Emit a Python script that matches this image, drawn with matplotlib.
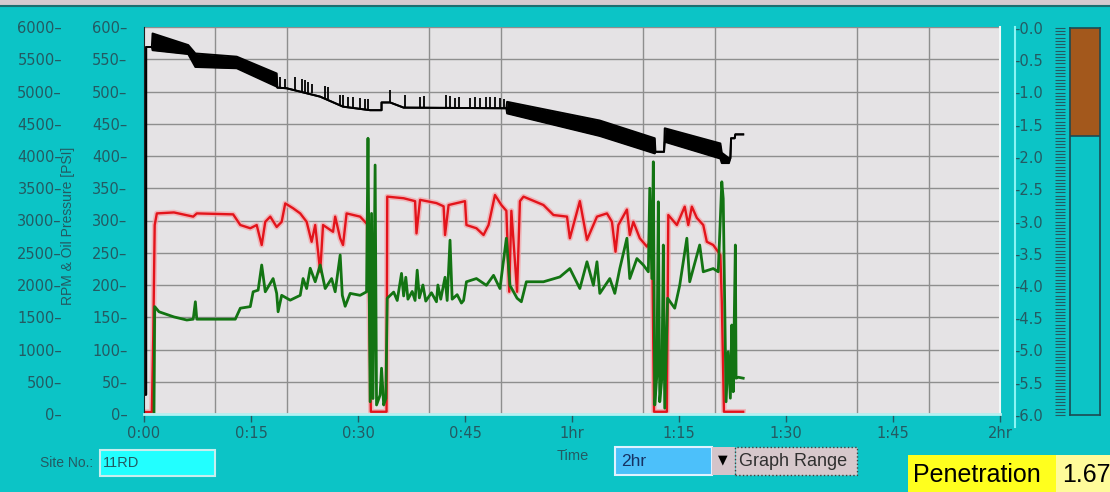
import matplotlib.pyplot as plt
from matplotlib.patches import Rectangle
from matplotlib.lines import Line2D

# black trace (upper / lower envelope of the dense band), minutes vs RPM
black_t = [0.0, 0.3, 0.3, 1.1, 1.2, 6.2, 7.2, 13.0, 18.6, 18.7, 20.0, 24.7, 27.9, 31.7,
           33.3, 33.3, 34.5, 36.4, 50.8, 50.9, 63.9, 71.6, 71.7, 72.9, 73.0, 80.8, 81.0,
           82.0, 82.2, 82.3, 82.8, 82.9, 84.0]
black_hi = [300, 300, 5690, 5690, 5900, 5720, 5590, 5540, 5280, 5060, 5050, 4920, 4765, 4710,
            4710, 4830, 4830, 4750, 4740, 4840, 4550, 4275, 4065, 4065, 4430, 4195, 4050,
            3965, 3965, 4275, 4275, 4335, 4335]
black_lo = [300, 300, 5690, 5690, 5640, 5580, 5380, 5360, 5075, 5060, 5050, 4920, 4765, 4710,
            4710, 4830, 4830, 4750, 4740, 4660, 4310, 4040, 4065, 4065, 4220, 3960, 3890,
            3890, 3965, 4275, 4275, 4335, 4335]

# short upward spikes on the black trace
spike_t = [19.1, 19.8, 21.2, 22.1, 22.6, 23.0, 23.5, 25.4, 25.8, 27.5, 27.9, 28.6, 29.3, 30.3,
           31.0, 31.4, 34.5, 36.6, 38.7, 39.2, 42.4, 42.9, 43.6, 44.1, 45.7, 46.4, 47.1, 48.0,
           48.5, 49.2, 49.9, 50.4]
spike_lo = [5055, 5052, 5030, 5000, 4990, 4980, 4970, 4900, 4880, 4780, 4765, 4755, 4745, 4730,
            4720, 4715, 4830, 4750, 4750, 4750, 4745, 4745, 4745, 4745, 4745, 4745, 4745, 4745,
            4745, 4745, 4745, 4745]
spike_hi = [5230, 5200, 5230, 5190, 5180, 5150, 5120, 5080, 5070, 4950, 4950, 4920, 4910, 4900,
            4890, 4880, 5020, 4950, 4920, 4930, 4940, 4930, 4900, 4920, 4900, 4910, 4900, 4910,
            4920, 4910, 4900, 4890]

# red trace
red_t = [0.0, 1.1, 1.3, 1.5, 1.8, 4.2, 6.9, 7.4, 12.5, 13.5, 14.9, 15.8, 16.5, 17.0, 17.7,
         18.6, 19.3, 19.8, 20.9, 21.9, 22.8, 23.5, 24.0, 24.7, 25.1, 26.5, 26.8, 27.5, 27.9,
         28.4, 30.3, 31.4, 31.8, 34.0, 34.1, 36.4, 38.0, 38.2, 38.7, 41.0, 42.0, 42.2, 42.7,
         45.0, 45.2, 46.6, 47.6, 48.3, 49.2, 50.1, 50.8, 51.2, 51.5, 52.3, 52.7, 53.2, 56.0,
         57.4, 59.3, 59.7, 61.1, 62.1, 63.5, 64.9, 65.6, 66.1, 66.5, 67.7, 68.1, 68.6, 69.5,
         70.5, 70.9, 71.2, 71.5, 73.3, 73.5, 74.7, 75.8, 76.3, 76.8, 77.5, 78.4, 78.9, 79.8,
         80.8, 81.0, 81.3, 84.0]
red_v = [30, 30, 1225, 2930, 3110, 3125, 3060, 3110, 3095, 2930, 2880, 2930, 2620, 2980, 3060,
         2900, 2980, 3265, 3190, 3110, 2980, 2670, 2930, 2205, 2930, 2825, 3060, 2725, 2620,
         3110, 3060, 2930, 35, 35, 3370, 3345, 3300, 2800, 3320, 3270, 3220, 2775, 3240,
         3300, 2930, 2880, 2775, 2930, 3395, 3240, 3150, 1895, 3150, 1895, 3300, 3370, 3240,
         3085, 3060, 2725, 3300, 2700, 3060, 3110, 2980, 2515, 2930, 3170, 2775, 2980, 2725,
         2595, 2670, 2980, 35, 35, 3085, 2930, 3215, 2930, 3215, 3040, 2930, 2670, 2620,
         2465, 1740, 35, 35]

# green trace
green_t = [1.4, 1.5, 2.1, 4.2, 6.0, 6.9, 7.2, 7.4, 12.8, 13.5, 14.9, 15.3, 16.0, 16.5, 17.0,
           18.1, 18.6, 18.8, 19.3, 20.5, 21.9, 22.3, 22.8, 23.3, 24.0, 24.7, 25.4, 26.3, 26.8,
           27.5, 27.8, 28.2, 28.9, 30.3, 31.2, 31.4, 31.7, 31.9, 32.1, 32.4, 32.6, 33.1, 33.3,
           33.6, 33.9, 34.1, 35.0, 35.5, 36.1, 36.4, 36.7, 37.0, 37.6, 38.0, 38.3, 38.6, 39.1,
           39.5, 40.3, 41.0, 41.2, 41.6, 42.2, 42.5, 42.9, 43.2, 43.9, 44.5, 44.8, 45.2, 46.6,
           48.0, 49.0, 49.9, 50.8, 51.3, 52.3, 52.9, 53.6, 56.0, 58.3, 59.7, 61.1, 62.1, 63.0,
           63.5, 63.9, 65.3, 66.0, 66.7, 67.7, 68.1, 69.1, 70.0, 70.7, 70.9, 71.2, 71.4, 71.6,
           71.9, 72.1, 72.3, 72.6, 72.8, 73.0, 73.4, 74.4, 75.1, 76.1, 76.5, 77.9, 78.4, 79.8,
           80.5, 81.0, 81.2, 81.6, 81.9, 82.2, 82.4, 82.6, 82.9, 83.0, 83.3, 84.0]
green_v = [30, 1665, 1585, 1505, 1457, 1470, 1740, 1470, 1470, 1640, 1665, 1895, 1920, 2310,
           1895, 2100, 1870, 1585, 1840, 1765, 1840, 2100, 1945, 2260, 2050, 2310, 1945, 2100,
           1895, 2465, 1840, 1670, 1870, 1840, 1895, 4275, 190, 3110, 240, 3860, 140, 295, 710,
           140, 240, 1795, 1890, 1760, 2180, 1830, 2120, 1780, 1900, 1760, 2230, 1800, 2000,
           1750, 1880, 1740, 2000, 1780, 2120, 1760, 2695, 1780, 1850, 1720, 1760, 2050, 2100,
           1995, 2150, 1945, 2725, 1995, 1795, 1740, 2050, 2050, 2125, 2255, 1945, 2360, 1995,
           2360, 1870, 2100, 1870, 2255, 2725, 2100, 2410, 2310, 2205, 3500, 2100, 3910, 140,
           605, 3290, 190, 560, 2620, 90, 1795, 1640, 1995, 2725, 2050, 2620, 2205, 2255, 2205,
           3600, 3340, 190, 965, 245, 1380, 345, 2620, 555, 570, 555]

rpm_ticks = list(range(0, 6001, 500))
psi_ticks = list(range(0, 601, 50))
time_ticks = [0, 15, 30, 45, 60, 75, 90, 105, 120]
time_labels = ['0:00', '0:15', '0:30', '0:45', '1hr', '1:15', '1:30', '1:45', '2hr']
pen_ticks = [-i * 0.5 for i in range(13)]
penetration = 1.67

CYAN = '#0cc4c6'
TXT = '#245a62'
W, H = 1110, 492


def fx(px):
    return px / W


def fy(py):
    return 1 - py / H


def box(fig, x0, y0, x1, y1, **kw):
    fig.add_artist(Rectangle((fx(x0), fy(y1)), fx(x1) - fx(x0), fy(y0) - fy(y1),
                             transform=fig.transFigure, **kw))


fig = plt.figure(figsize=(W / 100, H / 100), dpi=100)
fig.patch.set_facecolor(CYAN)

# window top strip
box(fig, 0, 0, W, 5, facecolor='#d6cbd0', lw=0)
fig.add_artist(Line2D([0, 1], [fy(6), fy(6)], color='#1e6e70', lw=1.5))

ax = fig.add_axes([fx(144), fy(414), fx(1000) - fx(144), fy(27) - fy(414)])
ax.set_facecolor('#e5e3e5')
ax.set_xlim(0, 120)
ax.set_ylim(0, 6000)

ax.fill_between(black_t, black_lo, black_hi, color='black', lw=0)
ax.plot(black_t, black_hi, color='black', lw=1.4)
ax.plot(black_t, black_lo, color='black', lw=1.4)
ax.vlines(spike_t, spike_lo, spike_hi, color='black', lw=1.3)
ax.plot(red_t, red_v, color='#f4a4a8', lw=4, alpha=0.7)
ax.plot(red_t, red_v, color='#e3141b', lw=1.7)
ax.plot(green_t, green_v, color='#137413', lw=2.0)

ax.set_yticks(rpm_ticks)
ax.set_yticklabels([f'{v}\u2013' for v in rpm_ticks])
ax.tick_params(axis='y', length=0, pad=59, labelsize=10.5, labelcolor=TXT)
ax.set_xticks(time_ticks)
ax.set_xticklabels(time_labels)
ax.set_xticks(range(0, 121, 10), minor=True)
ax.tick_params(axis='x', which='major', length=6, width=1, color=TXT, pad=3,
               labelsize=10.5, labelcolor=TXT)
ax.tick_params(axis='x', which='minor', length=0)
ax.yaxis.grid(True, color='#8e8e8e', lw=1)
ax.xaxis.grid(True, which='minor', color='#8e8e8e', lw=1)
ax.set_axisbelow(True)
ax.spines['top'].set_visible(False)
ax.spines['left'].set_color('#202020')
ax.spines['bottom'].set_color('#b4f2f2')
ax.spines['bottom'].set_linewidth(2)
ax.spines['right'].set_color('#f2f8f8')
ax.spines['right'].set_linewidth(1.5)

sec = ax.secondary_yaxis('left', functions=(lambda v: v / 10, lambda v: v * 10))
sec.set_yticks(psi_ticks)
sec.set_yticklabels([f'{v}\u2013' for v in psi_ticks])
sec.tick_params(length=0, pad=12, labelsize=10.5, labelcolor=TXT)
sec.spines['left'].set_visible(False)

ax.set_ylabel('RPM & Oil Pressure [PSI]', fontsize=10, color=TXT, family='Liberation Sans')
ax.yaxis.set_label_coords(-0.081, 0.486)

# penetration gauge
fig.add_artist(Line2D([fx(1015)] * 2, [fy(27), fy(427)], color='#8af4f4', lw=1.5))
gx = fig.add_axes([fx(1070), fy(415), fx(1100) - fx(1070), fy(28) - fy(415)])
gx.set_facecolor(CYAN)
gx.set_xlim(0, 1)
gx.set_ylim(-6, 0)
gx.bar(0.5, -penetration, width=1, bottom=0, color='#a3581c', lw=0)
gx.axhline(-penetration, color='#1e4a52', lw=1.2)
gx.set_xticks([])
gx.set_yticks([])
for s in gx.spines.values():
    s.set_color('#1e4a52')
    s.set_linewidth(1.2)
gs = gx.secondary_yaxis(-0.17)
gs.set_yticks(pen_ticks)
gs.set_yticklabels([f'-{abs(v):.1f}' for v in pen_ticks])
gs.set_yticks([-i * 0.05 for i in range(121)], minor=True)
gs.tick_params(which='both', length=7, width=0.8, color=TXT, pad=9,
               labelsize=10.5, labelcolor=TXT)
gs.spines['left'].set_visible(False)

# controls under the chart
fig.text(fx(93), fy(463), 'Site No.:', ha='right', va='center', fontsize=10,
         color=TXT, family='Liberation Sans')
box(fig, 100, 450, 215, 476, facecolor='#22ffff', edgecolor='#c8eeee', lw=1.5)
fig.text(fx(103), fy(463), '11RD', ha='left', va='center', fontsize=10.5,
         color=TXT, family='Liberation Sans')

fig.text(fx(573), fy(456), 'Time', ha='center', va='center', fontsize=10.5,
         color=TXT, family='Liberation Sans')
box(fig, 615, 447, 712, 475, facecolor='#4cc0fa', edgecolor='#e2f2ff', lw=1.5)
fig.text(fx(621), fy(462), '2hr', ha='left', va='center', fontsize=12.5,
         color='#163264', family='Liberation Sans')
box(fig, 712, 447, 735, 475, facecolor='#d4c4ca', lw=0)
fig.text(fx(723), fy(460), '\u25bc', ha='center', va='center', fontsize=9, color='black')
box(fig, 735, 447, 857, 475, facecolor='#d7c8cc', edgecolor='#404040', lw=1, ls=':')
fig.text(fx(739), fy(461), 'Graph Range', ha='left', va='center', fontsize=13,
         color='#303030', family='Liberation Sans')

box(fig, 908, 455, 1056, 492, facecolor='#ffff1e', lw=0)
fig.text(fx(913), fy(475), 'Penetration', ha='left', va='center', fontsize=18,
         color='black', family='Liberation Sans')
box(fig, 1056, 455, 1110, 492, facecolor='#fffb9a', lw=0)
fig.text(fx(1062), fy(475), f'{penetration:.2f}', ha='left', va='center', fontsize=18,
         color='black', family='Liberation Sans')

fig.savefig('out.png', dpi=100, facecolor=fig.get_facecolor())
